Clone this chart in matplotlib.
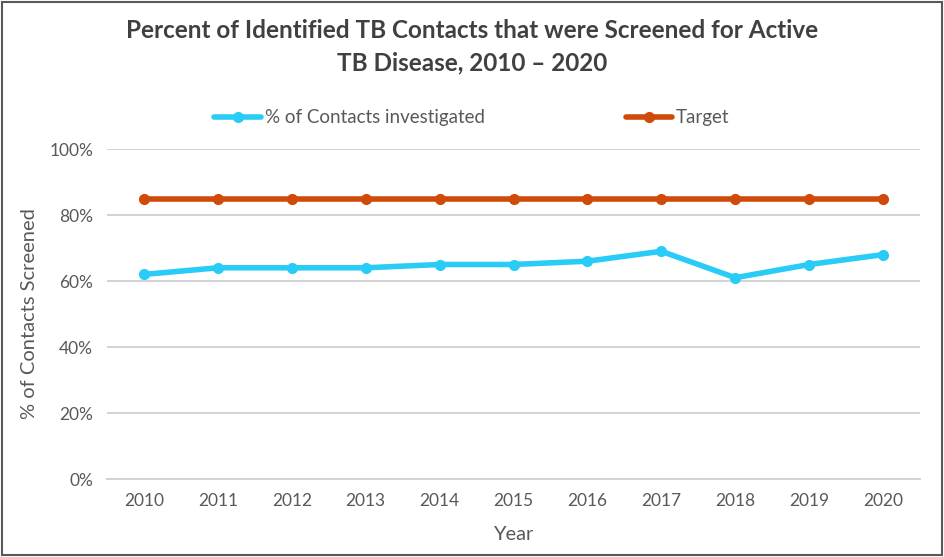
import matplotlib.pyplot as plt
from matplotlib.ticker import FuncFormatter

years = ['2010', '2011', '2012', '2013', '2014', '2015', '2016', '2017', '2018', '2019', '2020']
pct_investigated = [62, 64, 64, 64, 65, 65, 66, 69, 61, 65, 68]
target = [85, 85, 85, 85, 85, 85, 85, 85, 85, 85, 85]

plt.rcParams['font.family'] = ['Lato', 'DejaVu Sans']

fig = plt.figure(figsize=(9.44, 5.57), dpi=100)
ax = fig.add_axes([107 / 944, 1 - 479 / 557, (920 - 107) / 944, (479 - 149) / 557])

x = range(len(years))
ax.plot(x, pct_investigated, color='#29CCF6', lw=4, marker='o', ms=7,
        label='% of Contacts investigated', solid_capstyle='round')
ax.plot(x, target, color='#D04A0A', lw=4, marker='o', ms=7,
        label='Target', solid_capstyle='round')

ax.set_xlim(-0.5, len(years) - 0.5)
ax.set_ylim(0, 100)
ax.set_yticks(range(0, 101, 20))
ax.yaxis.set_major_formatter(FuncFormatter(lambda v, p: f'{v:.0f}%'))
ax.set_xticks(list(x))
ax.set_xticklabels(years)
ax.grid(axis='y', color='#D0D0D0', lw=1.3)
ax.set_axisbelow(True)
for s in ['top', 'right', 'left']:
    ax.spines[s].set_visible(False)
ax.spines['bottom'].set_color('#D0D0D0')
ax.spines['bottom'].set_linewidth(1.3)
ax.tick_params(length=0, labelsize=12.5, colors='#595959', pad=10)

ax.set_xlabel('Year', fontsize=14.5, color='#595959', labelpad=12)
ax.set_ylabel('% of Contacts Screened', fontsize=14.5, color='#595959', labelpad=8)

fig.text(0.5, 0.965, 'Percent of Identified TB Contacts that were Screened for Active\nTB Disease, 2010 \u2013 2020',
         ha='center', va='top', fontsize=17.5, fontweight='bold', color='#404040', linespacing=1.45)

fig.legend(loc='center', bbox_to_anchor=(0.5, 1 - 118 / 557), ncol=2, frameon=False,
           fontsize=13.5, labelcolor='#595959', columnspacing=7.5, handlelength=2.5, handletextpad=0.2)

fig.patches.append(plt.Rectangle((0.002, 0.003), 0.996, 0.994, transform=fig.transFigure,
                                 fill=False, edgecolor='#595959', lw=1.5))

fig.savefig('out.png', dpi=100)
